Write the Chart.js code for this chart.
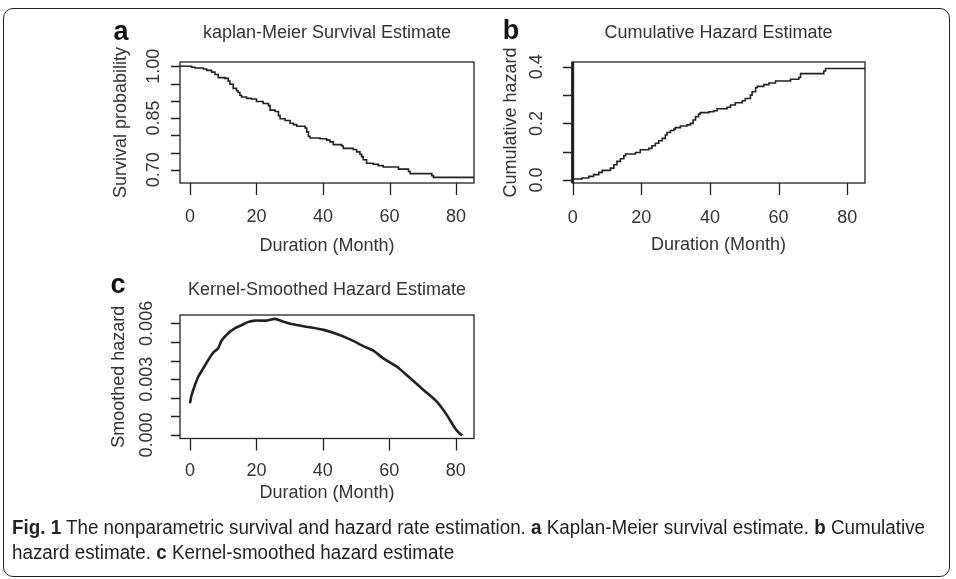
<!DOCTYPE html>
<html>
<head>
<meta charset="utf-8">
<script src="https://cdn.jsdelivr.net/npm/chart.js@4.4.1/dist/chart.umd.min.js"></script>
<style>
  body { margin: 0; width: 956px; height: 579px; background: #fff; position: relative; overflow: hidden; }
  .frame { position: absolute; left: 3px; top: 8px; width: 947px; height: 569px; border: 1.5px solid #222; border-radius: 10px; box-sizing: border-box; }
  canvas { position: absolute; left: 0; top: 0; }
  .cap { position: absolute; left: 12px; font-family: "Liberation Sans Narrow", "Liberation Sans", Arial, sans-serif; font-size: 20px; color: #231f20; white-space: nowrap; transform-origin: 0 50%; line-height: 22px; }
  .cap b { font-weight: bold; }
</style>
</head>
<body>
<div class="frame"></div>
<canvas id="chartA" width="956" height="579"></canvas>
<canvas id="chartB" width="956" height="579"></canvas>
<canvas id="chartC" width="956" height="579"></canvas>
<div class="cap" id="cap1" style="top:516px"><b>Fig. 1</b> The nonparametric survival and hazard rate estimation. <b>a</b> Kaplan-Meier survival estimate. <b>b</b> Cumulative</div>
<div class="cap" id="cap2" style="top:541px">hazard estimate. <b>c</b> Kernel-smoothed hazard estimate</div>

<script>
// ---- data ----
// a: Kaplan-Meier survival (step points: time, survival after the step)
var kmTime = [-3, 0.5, 1.5, 4.0, 5.0, 6.5, 7.5, 8.5, 10.5, 11.5, 12.0, 13.0, 14.0, 14.5, 15.0, 15.5, 17.0, 18.5, 20.0, 22.0,
  23.6, 24.1, 25.6, 26.6, 27.1, 28.6, 30.1, 31.1, 32.1, 34.6, 35.1, 35.6, 36.1, 39.1, 41.1, 42.1, 43.1, 45.6, 46.1, 49.1,
  50.1, 51.1, 51.6, 52.1, 53.1, 55.1, 56.6, 58.1, 62.7, 65.7, 66.2, 72.7, 73.2, 85.4];
var kmSurv = [1.000, 0.997, 0.995, 0.992, 0.988, 0.983, 0.976, 0.967, 0.965, 0.957, 0.948, 0.936, 0.929, 0.924, 0.916, 0.911, 0.907, 0.905, 0.898, 0.892,
  0.886, 0.873, 0.869, 0.857, 0.848, 0.843, 0.835, 0.831, 0.826, 0.821, 0.810, 0.797, 0.792, 0.790, 0.786, 0.781, 0.773, 0.769, 0.762, 0.759,
  0.752, 0.745, 0.738, 0.729, 0.719, 0.716, 0.712, 0.708, 0.702, 0.695, 0.689, 0.683, 0.678, 0.678];

// b: cumulative hazard
var chTime = [-0.2, 2.7, 4.7, 6.1, 7.6, 8.6, 11.0, 12.0, 12.9, 13.9, 14.9, 15.4, 18.3, 19.7, 22.2, 23.1, 24.1, 25.1, 26.1, 27.0,
  27.5, 28.5, 29.5, 29.9, 31.4, 33.3, 34.3, 35.1, 35.8, 36.7, 37.2, 39.7, 41.1, 42.1, 45.0, 46.0, 47.4, 49.4, 50.3, 51.8,
  52.3, 53.3, 53.8, 55.7, 57.2, 59.1, 63.5, 65.9, 66.4, 73.2, 73.7, 85.2];
var chHaz = [0.0035, 0.007, 0.013, 0.019, 0.027, 0.034, 0.042, 0.054, 0.066, 0.075, 0.086, 0.092, 0.097, 0.107, 0.112, 0.121, 0.130, 0.139, 0.147, 0.159,
  0.168, 0.175, 0.180, 0.185, 0.191, 0.195, 0.200, 0.212, 0.224, 0.233, 0.238, 0.241, 0.245, 0.252, 0.257, 0.265, 0.273, 0.280, 0.288, 0.300,
  0.312, 0.326, 0.331, 0.337, 0.343, 0.350, 0.356, 0.362, 0.376, 0.385, 0.394, 0.394];

// c: kernel-smoothed hazard
var khTime = [0, 0.5, 1.5, 2.5, 4.0, 5.5, 7.0, 8.5, 9.5, 11.5, 13.6, 15.6, 17.6, 19.6, 23.1, 25.6, 28.1, 32.1, 36.1, 40.2,
  44.2, 48.2, 52.2, 55.2, 58.2, 62.3, 66.3, 70.3, 74.3, 77.3, 79.8, 81.3, 82.0];
var khHaz = [0.00170, 0.00215, 0.00269, 0.00313, 0.00358, 0.00403, 0.00443, 0.00466, 0.00507, 0.00547, 0.00574, 0.00591, 0.00608, 0.00615, 0.00615, 0.00624, 0.00609, 0.00591, 0.00579, 0.00565,
  0.00543, 0.00514, 0.00478, 0.00453, 0.00412, 0.00367, 0.00305, 0.00242, 0.00179, 0.00108, 0.00036, 0.00005, 0.00000];

// ticks
var xTicks = [0, 20, 40, 60, 80];
var xTickLabels = ['0', '20', '40', '60', '80'];
var aYTicks = [0.70, 0.75, 0.80, 0.85, 0.90, 0.95, 1.00];
var aYLabels = ['0.70', '', '', '0.85', '', '', '1.00'];
var bYTicks = [0.0, 0.1, 0.2, 0.3, 0.4];
var bYLabels = ['0.0', '', '0.2', '', '0.4'];
var cYTicks = [0, 0.001, 0.002, 0.003, 0.004, 0.005, 0.006];
var cYLabels = ['0.000', '', '', '0.003', '', '', '0.006'];

var INK = '#222';
var TXT = '#333';
var W = 956, H = 579;
Chart.defaults.font.family = '"Liberation Sans", Arial, sans-serif';

function pairs(xs, ys) {
  return xs.map(function (v, i) { return { x: v, y: ys[i] }; });
}

// R-style box, ticks, labels drawn from the chart's own scales
var rPlot = {
  id: 'rPlot',
  afterDraw: function (chart, args, o) {
    var ctx = chart.ctx, a = chart.chartArea, xs = chart.scales.x, ys = chart.scales.y;
    ctx.save();
    ctx.strokeStyle = INK;
    ctx.fillStyle = TXT;
    ctx.lineWidth = 1.3;
    ctx.strokeRect(a.left, a.top, a.right - a.left, a.bottom - a.top);
    if (o.leftEdge) {
      ctx.lineWidth = 3;
      ctx.beginPath();
      ctx.moveTo(xs.getPixelForValue(0), a.top);
      ctx.lineTo(xs.getPixelForValue(0), a.bottom);
      ctx.stroke();
      ctx.lineWidth = 1.3;
    }
    ctx.beginPath();
    o.xTicks.forEach(function (v) {
      var px = Math.round(xs.getPixelForValue(v)) + 0.5;
      ctx.moveTo(px, a.bottom); ctx.lineTo(px, a.bottom + o.xTickLen);
    });
    o.yTicks.forEach(function (v) {
      var py = Math.round(ys.getPixelForValue(v)) + 0.5;
      ctx.moveTo(a.left, py); ctx.lineTo(a.left - o.yTickLen, py);
    });
    ctx.stroke();

    ctx.font = '18px "Liberation Sans", Arial, sans-serif';
    ctx.textAlign = 'center';
    ctx.textBaseline = 'middle';
    o.xTicks.forEach(function (v, i) {
      ctx.fillText(o.xLabels[i], xs.getPixelForValue(v), a.bottom + o.xLabelOff);
    });
    ctx.fillText(o.xTitle, (a.left + a.right) / 2, a.bottom + o.xTitleOff);
    ctx.fillText(o.title, (a.left + a.right) / 2, a.top - o.titleOff);

    o.yTicks.forEach(function (v, i) {
      if (!o.yLabels[i]) return;
      ctx.save();
      ctx.translate(a.left - o.yLabelOff, ys.getPixelForValue(v));
      ctx.rotate(-Math.PI / 2);
      ctx.fillText(o.yLabels[i], 0, 0);
      ctx.restore();
    });
    ctx.save();
    ctx.translate(a.left - o.yTitleOff, (a.top + a.bottom) / 2);
    ctx.rotate(-Math.PI / 2);
    ctx.fillText(o.yTitle, 0, 0);
    ctx.restore();

    ctx.fillStyle = '#111';
    ctx.font = 'bold 27px "Liberation Sans", Arial, sans-serif';
    ctx.fillText(o.letter, o.letterX, o.letterY);
    ctx.restore();
  }
};

function makePanel(id, box, xr, yr, dataset, opts) {
  return new Chart(document.getElementById(id), {
    type: 'line',
    data: { datasets: [dataset] },
    options: {
      responsive: false,
      animation: false,
      layout: { padding: { left: box.left, top: box.top, right: W - box.right, bottom: H - box.bottom } },
      scales: {
        x: { type: 'linear', display: false, min: xr[0], max: xr[1] },
        y: { type: 'linear', display: false, min: yr[0], max: yr[1] }
      },
      plugins: { legend: { display: false }, tooltip: { enabled: false }, rPlot: opts }
    },
    plugins: [rPlot]
  });
}

makePanel('chartA', { left: 180, top: 62, right: 474, bottom: 183 }, [-3.0, 85.4], [0.6617, 1.0124], {
  data: pairs(kmTime, kmSurv), stepped: true, borderColor: INK, borderWidth: 1.6, pointRadius: 0, fill: false
}, {
  xTicks: xTicks, xLabels: xTickLabels, yTicks: aYTicks, yLabels: aYLabels,
  xTickLen: 12, yTickLen: 9, xLabelOff: 34, xTitleOff: 63, yLabelOff: 26, yTitleOff: 59, titleOff: 29,
  title: 'kaplan-Meier Survival Estimate', xTitle: 'Duration (Month)', yTitle: 'Survival probability',
  letter: 'a', letterX: 121, letterY: 33
});

makePanel('chartB', { left: 572, top: 62, right: 865, bottom: 183 }, [-0.2, 85.2], [-0.0105, 0.417], {
  data: pairs(chTime, chHaz), stepped: true, borderColor: INK, borderWidth: 1.6, pointRadius: 0, fill: false
}, {
  xTicks: xTicks, xLabels: xTickLabels, yTicks: bYTicks, yLabels: bYLabels, leftEdge: true,
  xTickLen: 12, yTickLen: 9, xLabelOff: 35, xTitleOff: 62, yLabelOff: 35, yTitleOff: 61, titleOff: 29,
  title: 'Cumulative Hazard Estimate', xTitle: 'Duration (Month)', yTitle: 'Cumulative hazard',
  letter: 'b', letterX: 511, letterY: 32
});

makePanel('chartC', { left: 180, top: 315, right: 474, bottom: 438.5 }, [-3.0, 85.5], [-0.00019, 0.00645], {
  data: pairs(khTime, khHaz), borderColor: INK, borderWidth: 2.6, pointRadius: 0, fill: false, tension: 0.3
}, {
  xTicks: xTicks, xLabels: xTickLabels, yTicks: cYTicks, yLabels: cYLabels,
  xTickLen: 12, yTickLen: 9, xLabelOff: 32.5, xTitleOff: 55, yLabelOff: 33, yTitleOff: 61, titleOff: 25,
  title: 'Kernel-Smoothed Hazard Estimate', xTitle: 'Duration (Month)', yTitle: 'Smoothed hazard',
  letter: 'c', letterX: 118, letterY: 286
});

// fit the condensed caption to the width it has in the figure
var cap1 = document.getElementById('cap1'), cap2 = document.getElementById('cap2');
var s = 913 / cap1.getBoundingClientRect().width;
cap1.style.transform = 'scaleX(' + s + ')';
cap2.style.transform = 'scaleX(' + s + ')';
</script>
</body>
</html>
